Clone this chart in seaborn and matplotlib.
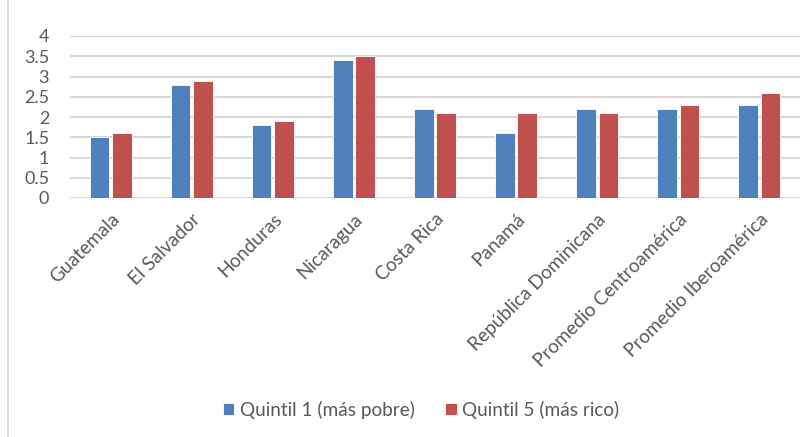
import matplotlib
matplotlib.use("Agg")
import matplotlib.pyplot as plt
import seaborn as sns
import pandas as pd
from matplotlib.lines import Line2D

categories = ["Guatemala", "El Salvador", "Honduras", "Nicaragua", "Costa Rica",
              "Panamá", "República Dominicana", "Promedio Centroamérica",
              "Promedio Iberoamérica"]
quintil1 = [1.5, 2.8, 1.8, 3.4, 2.2, 1.6, 2.2, 2.2, 2.3]
quintil5 = [1.6, 2.9, 1.9, 3.5, 2.1, 2.1, 2.1, 2.3, 2.6]
series_names = ["Quintil 1 (más pobre)", "Quintil 5 (más rico)"]
yticks = [0, 0.5, 1, 1.5, 2, 2.5, 3, 3.5, 4]
ytick_labels = ["0", "0.5", "1", "1.5", "2", "2.5", "3", "3.5", "4"]

df = pd.DataFrame({
    "cat": categories * 2,
    "val": quintil1 + quintil5,
    "serie": [series_names[0]] * len(categories) + [series_names[1]] * len(categories),
})

sns.set_style("white")
plt.rcParams["font.family"] = ["Lato", "DejaVu Sans"]

fig = plt.figure(figsize=(8.1, 4.37), dpi=100)
ax = fig.add_axes([70/810, 1 - 198/437, 730/810, 162/437])

sns.barplot(data=df, x="cat", y="val", hue="serie", order=categories,
            hue_order=series_names, palette=["#4f81bd", "#c0504d"],
            saturation=1, width=0.55, gap=0.12, edgecolor="white", linewidth=0.6,
            errorbar=None, ax=ax, legend=True)

ax.set_ylim(0, 4)
ax.set_xlim(-0.5, len(categories) - 0.5)
ax.set_yticks(yticks)
ax.set_yticklabels(ytick_labels)
ax.yaxis.grid(True, color="#d9d9d9", linewidth=1.5)
ax.set_axisbelow(True)
for s in ax.spines.values():
    s.set_visible(False)
ax.set_xlabel("")
ax.set_ylabel("")
ax.tick_params(axis="y", length=0, pad=15, labelsize=13, labelcolor="#595959")
ax.tick_params(axis="x", length=0, pad=9, labelsize=13.7, labelcolor="#595959")
ax.set_xticks(range(len(categories)))
ax.set_xticklabels(categories, rotation=45, ha="right", rotation_mode="anchor")

handles, labels = ax.get_legend_handles_labels()
ax.get_legend().remove()
fig.legend(handles, labels, loc="center", bbox_to_anchor=(0.52, 0.062), ncol=2,
           frameon=False, fontsize=13.7, handlelength=0.6, handleheight=0.6,
           handletextpad=0.3, columnspacing=1.6, labelcolor="#595959")

fig.add_artist(Line2D([8/810, 8/810], [0, 1], color="#d9d9d9", linewidth=1.2,
                      transform=fig.transFigure))

fig.savefig("out.png", dpi=100)
